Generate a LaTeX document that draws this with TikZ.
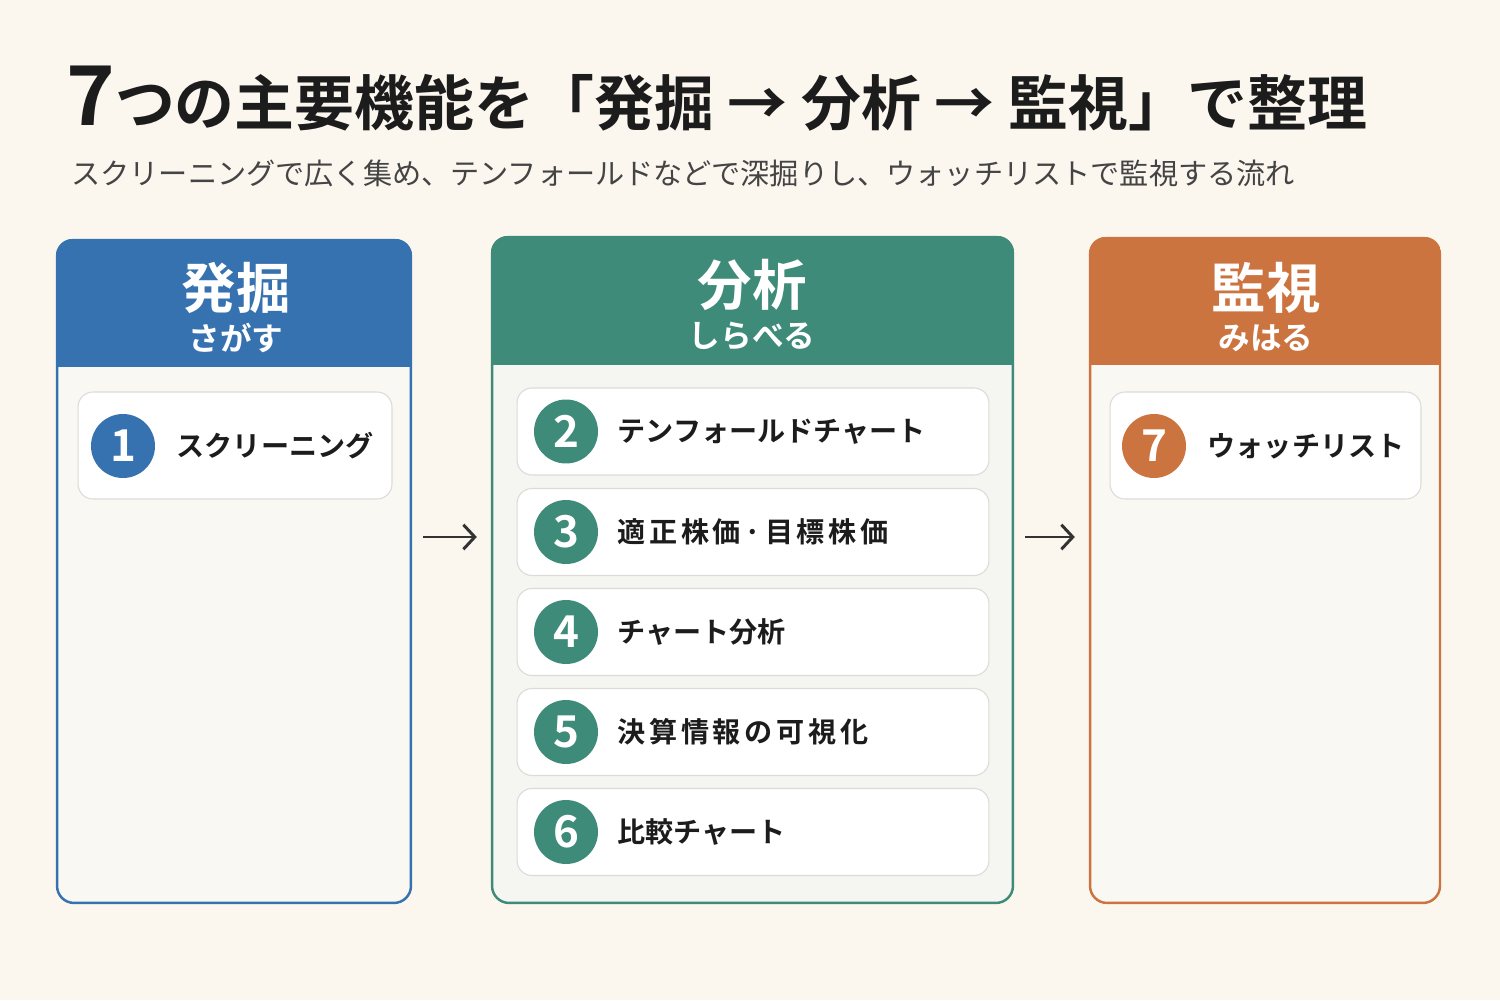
\documentclass[tikz,border=0pt]{standalone}
\usepackage{fontspec}
\setmainfont{Noto Sans CJK JP}[BoldFont={Noto Sans CJK JP Bold}]
\usetikzlibrary{arrows.meta,positioning}
\definecolor{pagebg}{HTML}{FBF6EE}
\definecolor{flowblue}{HTML}{3672B0}
\definecolor{flowgreen}{HTML}{3E8B79}
\definecolor{floworange}{HTML}{CC7440}
\definecolor{bodywarm}{HTML}{FAF8F3}
\definecolor{bodygreen}{HTML}{F5F6F1}
\definecolor{cardline}{HTML}{DDDBD7}
\definecolor{inkdark}{HTML}{1C1C1C}
\definecolor{inkgray}{HTML}{444444}
\tikzset{
  titletext/.style={font=\fontsize{34.1pt}{40pt}\selectfont\bfseries,text=inkdark,inner sep=0pt},
  subtext/.style={font=\fontsize{16.6pt}{20pt}\selectfont,text=inkgray,inner sep=0pt},
  flowpanel/.style={rounded corners=0.34cm,line width=1.4pt},
  headtitle/.style={font=\fontsize{31pt}{34pt}\selectfont\bfseries,text=white,inner sep=0pt},
  headsub/.style={font=\fontsize{18pt}{20pt}\selectfont\bfseries,text=white,inner sep=0pt},
  card/.style={draw=cardline,fill=white,rounded corners=0.3cm,line width=0.6pt},
  numdot/.style={circle,minimum size=1.28cm,inner sep=0pt,text=white,
                 font=\fontsize{25pt}{28pt}\selectfont\bfseries},
  itemtext/.style={font=\fontsize{16pt}{20pt}\selectfont\bfseries,text=inkdark,inner sep=0pt},
  itemwide/.style={itemtext,font=\fontsize{16pt}{20pt}\selectfont\bfseries\addfontfeature{LetterSpace=13}},
  flowline/.style={-{Straight Barb[length=6.5pt,width=14pt,line width=1.7pt]},line width=1.7pt,
                   draw=inkdark!90,shorten <=0.22cm,shorten >=0.28cm}
}
\begin{document}
\begin{tikzpicture}[x=0.02cm,y=-0.02cm]
  \fill[pagebg] (0,0) rectangle (1500,1000);
  \useasboundingbox (0,0) rectangle (1500,1000);

  \node[titletext,anchor=base west] (title) at (66,126)
    {{\fontsize{47pt}{40pt}\selectfont 7}つの主要機能を「発掘 → 分析 → 監視」で整理};
  \node[subtext,anchor=base west] (subtitle) at (71,185)
    {スクリーニングで広く集め、テンフォールドなどで深掘りし、ウォッチリストで監視する流れ};

  % three stages
  \node[flowpanel,draw=flowblue,fill=bodywarm,minimum width=7.08cm,minimum height=13.26cm]
    (hakkutsu) at (234,571.5) {};
  \node[flowpanel,draw=flowgreen,fill=bodygreen,minimum width=10.42cm,minimum height=13.32cm]
    (bunseki) at (752.5,570) {};
  \node[flowpanel,draw=floworange,fill=bodywarm,minimum width=7.0cm,minimum height=13.3cm]
    (kanshi) at (1265,570.5) {};

  \foreach \stage/\col/\hbot in {hakkutsu/flowblue/367,bunseki/flowgreen/365,kanshi/floworange/365}{
    \begin{scope}
      \clip[rounded corners=0.34cm] (\stage.north west) rectangle (\stage.south east);
      \fill[\col] (\stage.north west) rectangle (\stage.east |- 0,\hbot);
    \end{scope}
  }

  \node[headtitle] (hakkutsu-t) at (236,288) {発掘};
  \node[headsub] (hakkutsu-s) at (236,338) {さがす};
  \node[headtitle] (bunseki-t) at (752,285) {分析};
  \node[headsub] (bunseki-s) at (752,336) {しらべる};
  \node[headtitle] (kanshi-t) at (1266,288) {監視};
  \node[headsub] (kanshi-s) at (1266,338) {みはる};

  % item cards
  \node[card,minimum width=6.28cm,minimum height=2.14cm] (card1) at (235,445.5) {};
  \node[numdot,fill=flowblue] (num1) at (123,446) {1};
  \node[itemtext,right=0.42cm of num1] (item1) {スクリーニング};

  \foreach \n/\y/\look/\t in {2/431.5/itemtext/テンフォールドチャート,3/532/itemwide/適正株価·目標株価,
                              4/632/itemtext/チャート分析,5/732/itemwide/決算情報の可視化,
                              6/832/itemtext/比較チャート}{
    \node[card,minimum width=9.44cm,minimum height=1.74cm] (card\n) at (753,\y) {};
    \node[numdot,fill=flowgreen] (num\n) at (566,\y) {\n};
    \node[\look,right=0.38cm of num\n] (item\n) {\t};
  }

  \node[card,minimum width=6.22cm,minimum height=2.14cm] (card7) at (1265.5,445.5) {};
  \node[numdot,fill=floworange] (num7) at (1154,446) {7};
  \node[itemtext,right=0.42cm of num7] (item7) {ウォッチリスト};

  \coordinate (flowrow) at (0,537);
  \draw[flowline] (hakkutsu.east |- flowrow) -- (bunseki.west |- flowrow);
  \draw[flowline] (bunseki.east |- flowrow) -- (kanshi.west |- flowrow);
\end{tikzpicture}
\end{document}
